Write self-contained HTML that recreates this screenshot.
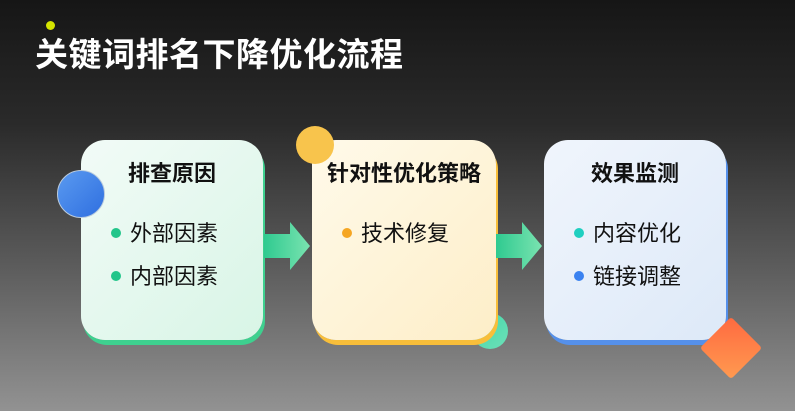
<!DOCTYPE html>
<html><head><meta charset="utf-8"><style>
*{margin:0;padding:0;box-sizing:border-box}
body{width:795px;height:411px;overflow:hidden;position:relative;font-family:"Liberation Sans","Noto Sans CJK SC",sans-serif;
background:linear-gradient(180deg,#161616 0%,#2a2a2a 30%,#5c5c5c 65%,#929292 100%);}
.t{position:absolute;left:35px;top:28px;font-size:33px;font-weight:bold;color:#fff;letter-spacing:0.5px}
.card{position:absolute;border-radius:24px;width:182px;height:200px;}
.card h{display:block;position:absolute;top:16px;left:0;right:0;text-align:center;font-size:22px;font-weight:bold;color:#111}
.it{position:absolute;font-size:22px;color:#111}
.it i{display:inline-block;width:10px;height:10px;border-radius:50%;margin-right:9px;vertical-align:3px}
.c{position:absolute;border-radius:50%}
.arr{position:absolute}
</style></head><body>
<div class="c" style="left:46px;top:21px;width:9px;height:9px;background:#d4e400"></div>
<div class="t">关键词排名下降优化流程</div>

<div class="card" style="left:81px;top:140px;background:linear-gradient(135deg,#f2fbf7,#d8f5e6);box-shadow:2px 5px 0 #3ed08f"><h>排查原因</h>
<div class="it" style="left:30px;top:76px"><i style="background:#22c58a"></i>外部因素</div>
<div class="it" style="left:30px;top:119px"><i style="background:#22c58a"></i>内部因素</div></div>
<div class="c" style="left:57px;top:170px;width:48px;height:48px;background:linear-gradient(135deg,#5a9af0,#2f6fe0);border:1px solid #bcd"></div>

<div class="card" style="left:312px;top:140px;width:184px;background:linear-gradient(135deg,#fffaea,#fdeec8);box-shadow:2px 5px 0 #f8be3a"><h style="left:0">针对性优化策略</h>
<div class="it" style="left:30px;top:76px"><i style="background:#f5a623"></i>技术修复</div></div>
<div class="c" style="left:296px;top:126px;width:38px;height:38px;background:#f8c44c;z-index:-0"></div>
<div class="c" style="left:472px;top:313px;width:36px;height:36px;background:linear-gradient(135deg,#3ed8a8,#6ee0b8);z-index:-1"></div>

<div class="card" style="left:544px;top:140px;background:linear-gradient(135deg,#f0f5fc,#dde9f8);box-shadow:2px 5px 0 #5590ea"><h>效果监测</h>
<div class="it" style="left:30px;top:76px"><i style="background:#1fcfc0"></i>内容优化</div>
<div class="it" style="left:30px;top:119px"><i style="background:#3a82f0"></i>链接调整</div></div>
<div style="position:absolute;left:709px;top:326px;width:44px;height:44px;transform:rotate(45deg);border-radius:3px;background:linear-gradient(135deg,#ff6a40,#ff9a50);z-index:-0"></div>

<svg class="arr" style="left:264px;top:222px" width="48" height="48"><defs><linearGradient id="g" x1="0" x2="1"><stop offset="0" stop-color="#2fca90"/><stop offset="1" stop-color="#7ae3b0"/></linearGradient></defs><polygon points="0,12 26,12 26,0 46,24 26,48 26,36 0,36" fill="url(#g)"/></svg>
<svg class="arr" style="left:496px;top:222px" width="48" height="48"><polygon points="0,12 26,12 26,0 46,24 26,48 26,36 0,36" fill="url(#g)"/></svg>
</body></html>
